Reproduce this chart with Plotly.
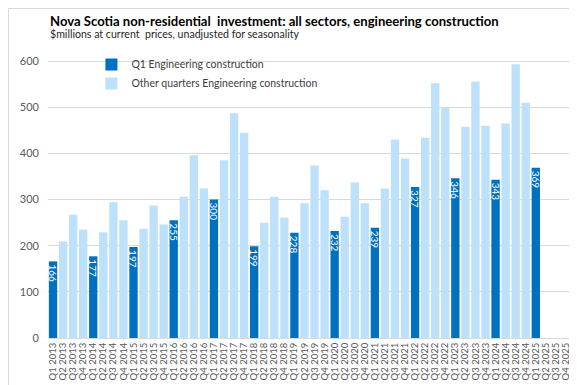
import plotly.graph_objects as go

years = list(range(2013, 2026))
quarters = ["Q1", "Q2", "Q3", "Q4"]
categories = [f"{q} {y}" for y in years for q in quarters]

q1_values = [166, 177, 197, 255, 300, 199, 228, 232, 239, 327, 346, 343, 369]
other_values = [
    [209, 267, 235],
    [229, 294, 255],
    [237, 287, 246],
    [306, 396, 324],
    [385, 487, 445],
    [250, 306, 261],
    [292, 374, 320],
    [263, 337, 292],
    [324, 430, 389],
    [434, 552, 499],
    [458, 556, 460],
    [465, 593, 510],
    [None, None, None],
]

q1_series = []
other_series = []
for i, y in enumerate(years):
    q1_series.append(q1_values[i])
    other_series.append(None)
    for v in other_values[i]:
        q1_series.append(None)
        other_series.append(v)

DARK = "#0070C0"
LIGHT = "#BDE1FA"

fig = go.Figure()
fig.add_trace(go.Bar(
    x=categories, y=q1_series, name="Q1 Engineering construction",
    marker=dict(color=DARK, line=dict(width=0)),
    text=[str(v) if v is not None else "" for v in q1_series],
    textposition="inside", insidetextanchor="end", textangle=90,
    textfont=dict(color="white", size=10, family="Lato"),
    constraintext="none", cliponaxis=False,
))
fig.add_trace(go.Bar(
    x=categories, y=other_series, name="Other quarters Engineering construction",
    marker=dict(color=LIGHT, line=dict(width=0)),
))

fig.update_layout(
    width=577, height=385,
    margin=dict(l=40, r=14, t=7, b=55),
    paper_bgcolor="white", plot_bgcolor="white",
    barmode="overlay", bargap=0.17,
    font=dict(family="Lato", color="#404040"),
    showlegend=True,
    legend=dict(x=0.083, y=0.892, xanchor="left", yanchor="top",
                bgcolor="rgba(0,0,0,0)", font=dict(size=10.5, color="#404040"),
                tracegroupgap=0, itemwidth=30),
    xaxis=dict(type="category", tickangle=-90, tickfont=dict(size=9.5, color="#595959"),
               tickmode="array", tickvals=categories, ticktext=categories,
               showgrid=False, showline=True, linecolor="#D9D9D9", ticks=""),
    yaxis=dict(range=[0, 700], dtick=100, showgrid=True, gridcolor="#D9D9D9",
               tickfont=dict(size=11, color="#595959"), zeroline=False,
               showline=False, ticklabelstandoff=8),
    annotations=[
        dict(text="<b>Nova Scotia non-residential  investment: all sectors, engineering construction</b>",
             xref="paper", yref="paper", x=0, y=1.0 - 6/323, xanchor="left", yanchor="middle",
             showarrow=False, font=dict(size=13.1, color="#000000", family="Lato")),
        dict(text="$millions at current  prices, unadjusted for seasonality",
             xref="paper", yref="paper", x=0, y=1.0 - 19/323, xanchor="left", yanchor="middle",
             showarrow=False, font=dict(size=10.6, color="#262626", family="Lato")),
    ],
    shapes=[
        dict(type="rect", xref="paper", yref="paper",
             x0=-39.5/523, x1=536.5/523, y0=-(54.5)/323, y1=1 + 6.5/323,
             line=dict(color="#D9D9D9", width=1), fillcolor="rgba(0,0,0,0)", layer="below"),
    ],
)

fig.write_html("out.html")
